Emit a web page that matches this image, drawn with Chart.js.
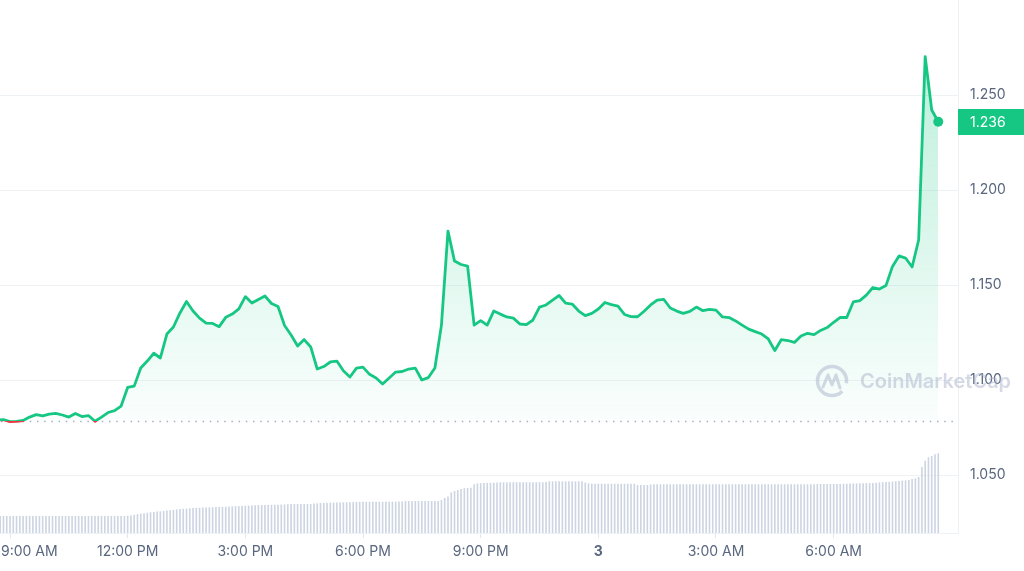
<!DOCTYPE html>
<html>
<head>
<meta charset="utf-8">
<script src="https://cdn.jsdelivr.net/npm/chart.js@4.4.0/dist/chart.umd.min.js"></script>
<style>
  html, body { margin: 0; padding: 0; background: #fff; }
  #wrap { width: 1024px; height: 571px; position: relative; }
</style>
</head>
<body>
<div id="wrap"><canvas id="priceChart"></canvas></div>
<script>
// times are hours from 9:00 AM on the first day
const priceStart = -1 / 3;   // 8:40 AM
const priceStep = 1 / 6;     // 10 minutes
const prices = [
    1.0789, 1.0792, 1.0781, 1.0782, 1.0787, 1.0805, 1.0818, 1.0811, 1.0821, 1.0824, 1.0816, 1.0805,
    1.0824, 1.0808, 1.0813, 1.0783, 1.0805, 1.0829, 1.0839, 1.0863, 1.0961, 1.0968, 1.1063, 1.1100,
    1.1141, 1.1116, 1.1242, 1.1279, 1.1353, 1.1413, 1.1363, 1.1326, 1.1300, 1.1298, 1.1281, 1.1330,
    1.1347, 1.1374, 1.1439, 1.1405, 1.1424, 1.1442, 1.1403, 1.1387, 1.1287, 1.1237, 1.1179, 1.1213,
    1.1174, 1.1058, 1.1071, 1.1095, 1.1100, 1.1049, 1.1016, 1.1063, 1.1068, 1.1030, 1.1011, 1.0979,
    1.1011, 1.1042, 1.1045, 1.1058, 1.1063, 1.1000, 1.1013, 1.1063, 1.1289, 1.1784, 1.1626, 1.1608,
    1.1600, 1.1289, 1.1313, 1.1289, 1.1363, 1.1347, 1.1332, 1.1326, 1.1295, 1.1292, 1.1316, 1.1384,
    1.1395, 1.1421, 1.1445, 1.1405, 1.1400, 1.1363, 1.1339, 1.1351, 1.1374, 1.1408, 1.1397, 1.1389,
    1.1345, 1.1334, 1.1333, 1.1362, 1.1395, 1.1421, 1.1425, 1.1379, 1.1363, 1.1351, 1.1361, 1.1384,
    1.1365, 1.1372, 1.1368, 1.1332, 1.1329, 1.1311, 1.1289, 1.1268, 1.1255, 1.1242, 1.1216, 1.1155,
    1.1213, 1.1208, 1.1198, 1.1232, 1.1246, 1.1239, 1.1261, 1.1276, 1.1304, 1.1330, 1.1329, 1.1411,
    1.1418, 1.1447, 1.1487, 1.1479, 1.1497, 1.1598, 1.1653, 1.1642, 1.1595, 1.1737, 1.2702, 1.2421,
    1.2359
];

const volStart = -0.25;      // 8:45 AM
const volStep = 1 / 12;      // 5 minutes
// 24h volume, millions
const volumes = [
    170, 170, 170, 170, 170, 170, 170, 170, 170, 170, 170, 170, 170, 170, 170, 170, 170, 170, 170, 170, 170, 170, 170, 170,
    170, 170, 170, 170, 170, 170, 170, 170, 170, 170, 170, 170, 170, 170, 170, 173, 176, 182, 188, 194, 198, 203, 207, 210,
    214, 217, 220, 224, 227, 231, 236, 240, 242, 244, 247, 249, 251, 253, 254, 255, 256, 257, 259, 260, 261, 263, 264, 266,
    268, 269, 271, 273, 274, 276, 277, 279, 280, 281, 281, 282, 282, 283, 284, 286, 288, 289, 290, 290, 290, 290, 290, 291,
    294, 297, 300, 301, 302, 303, 304, 305, 306, 307, 307, 308, 309, 310, 311, 312, 312, 313, 313, 313, 313, 313, 313, 313,
    313, 313, 314, 317, 320, 320, 320, 320, 320, 320, 320, 320, 320, 320, 320, 330, 350, 365, 407, 420, 430, 440, 448, 450,
    453, 487, 497, 498, 500, 501, 502, 503, 505, 507, 507, 507, 507, 507, 507, 507, 507, 507, 507, 507, 507, 507, 507, 510,
    517, 517, 517, 517, 517, 517, 517, 517, 517, 517, 517, 505, 497, 493, 493, 493, 493, 493, 493, 493, 493, 493, 493, 493,
    493, 493, 493, 480, 480, 480, 480, 485, 487, 487, 487, 487, 487, 487, 487, 487, 487, 487, 487, 487, 487, 487, 487, 487,
    487, 487, 487, 487, 487, 487, 487, 487, 487, 487, 487, 487, 487, 487, 487, 487, 487, 487, 487, 487, 487, 487, 487, 487,
    487, 487, 487, 487, 487, 487, 487, 487, 487, 488, 489, 490, 490, 490, 490, 490, 490, 491, 492, 493, 494, 495, 496, 497,
    498, 499, 500, 501, 503, 506, 508, 510, 512, 514, 517, 521, 524, 526, 530, 540, 547, 560, 660, 723, 757, 770, 787, 797
];

const openPrice = 1.0784;
const tickHours = [0, 3, 6, 9, 12, 15, 18, 21];
const tickLabels = ['9:00 AM', '12:00 PM', '3:00 PM', '6:00 PM', '9:00 PM', '3', '3:00 AM', '6:00 AM'];
const yTicks = [1.05, 1.10, 1.15, 1.20, 1.25];

const green = '#16c784';
const red = '#ea3943';
const textGray = '#58667e';
const gridGray = '#eff2f5';
const fontFamily = 'Inter, "Noto Sans", sans-serif';

const pricePoints = prices.map((p, i) => ({ x: priceStart + i * priceStep, y: p }));
const volPoints = volumes.map((v, i) => ({ x: volStart + i * volStep, y: v }));

function strokeGradient(context) {
    const chart = context.chart;
    const area = chart.chartArea;
    if (!area) return green;
    const yb = chart.scales.y.getPixelForValue(openPrice);
    const f = Math.min(Math.max((yb - area.top) / (area.bottom - area.top), 0), 1);
    const g = chart.ctx.createLinearGradient(0, area.top, 0, area.bottom);
    g.addColorStop(0, green);
    g.addColorStop(f, green);
    g.addColorStop(f, red);
    g.addColorStop(1, red);
    return g;
}

function fillGradient(context) {
    const chart = context.chart;
    const area = chart.chartArea;
    if (!area) return 'rgba(22,199,132,0.1)';
    const yb = chart.scales.y.getPixelForValue(openPrice);
    const g = chart.ctx.createLinearGradient(0, area.top, 0, yb);
    g.addColorStop(0, 'rgba(22,199,132,0.32)');
    g.addColorStop(1, 'rgba(22,199,132,0.02)');
    return g;
}

const extras = {
    id: 'extras',
    beforeDatasetsDraw(chart) {
        const { ctx, chartArea, scales } = chart;
        const y = Math.round(scales.y.getPixelForValue(openPrice)) + 0.5;
        ctx.save();
        ctx.strokeStyle = '#a6b0c3';
        ctx.lineWidth = 1.5;
        ctx.setLineDash([1.5, 5.7]);
        ctx.beginPath();
        ctx.moveTo(chartArea.left + 1, y);
        ctx.lineTo(chartArea.right - 4, y);
        ctx.stroke();
        ctx.restore();
    },
    afterDatasetsDraw(chart) {
        const { ctx, chartArea } = chart;
        // watermark
        ctx.save();
        ctx.globalAlpha = 0.5;
        ctx.strokeStyle = '#a9b4cc';
        ctx.fillStyle = '#a9b4cc';
        const cx = chartArea.right - 126, cy = 381;
        ctx.lineWidth = 3.5;
        ctx.beginPath();
        ctx.arc(cx, cy, 14.5, 0.25 * Math.PI, 2.05 * Math.PI, false);
        ctx.stroke();
        ctx.lineWidth = 3;
        ctx.lineJoin = 'round';
        ctx.lineCap = 'round';
        ctx.beginPath();
        ctx.moveTo(cx - 9, cy + 6);
        ctx.lineTo(cx - 4, cy - 6);
        ctx.lineTo(cx, cy + 4);
        ctx.lineTo(cx + 4, cy - 6);
        ctx.lineTo(cx + 8, cy + 7);
        ctx.stroke();
        ctx.font = '600 20px ' + fontFamily;
        ctx.textBaseline = 'middle';
        ctx.textAlign = 'left';
        ctx.fillText('CoinMarketCap', cx + 28, cy + 1);
        ctx.restore();
    },
    afterDraw(chart) {
        const { ctx, chartArea, scales, width } = chart;
        // x labels
        ctx.save();
        ctx.fillStyle = textGray;
        ctx.textBaseline = 'middle';
        ctx.textAlign = 'left';
        tickHours.forEach((h, i) => {
            ctx.font = (tickLabels[i] === '3' ? '700 ' : '400 ') + '14px ' + fontFamily;
            const w = ctx.measureText(tickLabels[i]).width;
            let x = scales.x.getPixelForValue(h) - w / 2;
            if (x < 1) x = 1;
            ctx.fillText(tickLabels[i], x, chartArea.bottom + 19);
        });
        // last price tag
        const last = prices[prices.length - 1];
        const y = scales.y.getPixelForValue(last);
        ctx.fillStyle = green;
        ctx.fillRect(chartArea.right, Math.round(y - 13), width - chartArea.right, 26);
        ctx.fillStyle = '#ffffff';
        ctx.font = '14px ' + fontFamily;
        ctx.fillText(last.toFixed(3), chartArea.right + 12, y + 1);
        ctx.restore();
    }
};

const data = {
    datasets: [{
        type: 'line',
        label: 'Price',
        data: pricePoints,
        yAxisID: 'y',
        borderColor: strokeGradient,
        backgroundColor: fillGradient,
        borderWidth: 2.8,
        borderJoinStyle: 'round',
        tension: 0,
        fill: { target: { value: openPrice }, below: 'rgba(234,57,67,0.08)' },
        pointRadius: ctx => ctx.dataIndex === prices.length - 1 ? 5 : 0,
        pointBackgroundColor: green,
        pointBorderWidth: 0,
        order: 1
    }, {
        type: 'bar',
        label: 'Volume',
        data: volPoints,
        yAxisID: 'yVol',
        backgroundColor: '#cdd5e3',
        barPercentage: 0.5,
        categoryPercentage: 1,
        order: 2
    }]
};

const config = {
    type: 'line',
    data: data,
    options: {
        responsive: true,
        maintainAspectRatio: false,
        animation: false,
        devicePixelRatio: 1,
        layout: { autoPadding: false, padding: { left: 0, right: 0, top: 0, bottom: 33 } },
        scales: {
            x: {
                type: 'linear',
                min: -0.255,
                max: 24.17,
                offset: false,
                afterBuildTicks: axis => { axis.ticks = tickHours.map(v => ({ value: v })); },
                afterFit: axis => { axis.paddingLeft = 0; axis.paddingRight = 0; },
                ticks: { display: false },
                grid: { display: true, offset: false, drawOnChartArea: false, drawTicks: true, tickLength: 5, color: '#e3e7ee' },
                border: { display: true, color: gridGray }
            },
            y: {
                position: 'right',
                min: 1.0195,
                max: 1.300,
                afterBuildTicks: axis => { axis.ticks = yTicks.map(v => ({ value: v })); },
                afterFit: axis => { axis.width = 66; axis.paddingTop = 0; axis.paddingBottom = 0; },
                ticks: {
                    color: textGray,
                    padding: 12,
                    font: { family: fontFamily, size: 14 },
                    callback: v => v.toFixed(3)
                },
                grid: { color: gridGray, drawTicks: false },
                border: { display: true, color: gridGray }
            },
            yVol: {
                display: false,
                min: 0,
                max: 5330
            }
        },
        plugins: {
            legend: { display: false },
            tooltip: { enabled: false }
        }
    },
    plugins: [extras]
};

const myChart = new Chart(document.getElementById('priceChart'), config);
</script>
</body>
</html>
